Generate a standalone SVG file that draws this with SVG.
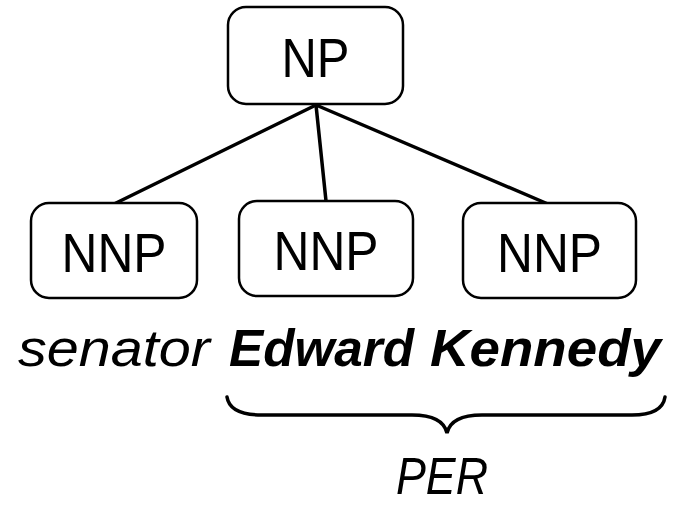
<svg xmlns="http://www.w3.org/2000/svg" width="677" height="505" viewBox="0 0 677 505">
<style>
.box{fill:#fff;stroke:#000;stroke-width:2.5}
.lbl{font-family:"Liberation Sans",Arial,sans-serif;font-size:55px;fill:#000;text-anchor:middle}
.w{font-family:"Liberation Sans",Arial,sans-serif;font-size:52px;fill:#000;font-style:italic}
.edge{stroke:#000;stroke-width:3.5;fill:none;stroke-linecap:round}
</style>
<rect width="677" height="505" fill="#fff"/>
<g id="connectors">
<line class="edge" x1="316" y1="105" x2="114" y2="204"/>
<line class="edge" x1="316" y1="105" x2="326" y2="201"/>
<line class="edge" x1="316" y1="105" x2="548" y2="204"/>
</g>
<g id="np"><rect class="box" x="228" y="7" width="175" height="97" rx="18"/><text class="lbl" x="315.5" y="77" textLength="68" lengthAdjust="spacingAndGlyphs">NP</text></g>
<g id="nnp1"><rect class="box" x="31" y="203" width="166" height="95" rx="18"/><text class="lbl" x="114" y="272" textLength="105" lengthAdjust="spacingAndGlyphs">NNP</text></g>
<g id="nnp2"><rect class="box" x="239" y="201" width="174" height="95" rx="18"/><text class="lbl" x="326" y="270" textLength="105" lengthAdjust="spacingAndGlyphs">NNP</text></g>
<g id="nnp3"><rect class="box" x="463" y="203" width="173" height="95" rx="18"/><text class="lbl" x="549.5" y="272" textLength="105" lengthAdjust="spacingAndGlyphs">NNP</text></g>
<g id="words">
<text class="w" x="18" y="366" textLength="192" lengthAdjust="spacingAndGlyphs">senator</text>
<text class="w" x="229" y="366" font-weight="bold" textLength="185" lengthAdjust="spacingAndGlyphs">Edward</text>
<text class="w" x="430" y="366" font-weight="bold" textLength="231" lengthAdjust="spacingAndGlyphs">Kennedy</text>
</g>
<g id="brace">
<path class="edge" d="M227,397 C229,410 243,415 262,415 L412,415 C432,415 444,420 447,433 C450,420 462,415 482,415 L632,415 C651,415 663,410 665,397"/>
<text class="w" x="396" y="494" font-size="50" textLength="92" lengthAdjust="spacingAndGlyphs">PER</text>
</g>
</svg>
